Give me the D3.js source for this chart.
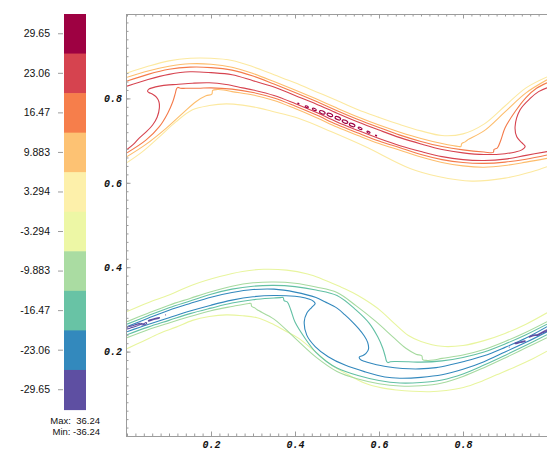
<!DOCTYPE html>
<html><head><meta charset="utf-8">
<script src="https://cdn.jsdelivr.net/npm/d3@7"></script>
<style>body{margin:0;background:#fff}svg{display:block}</style>
</head><body>
<svg id="c" width="547" height="452"></svg>
<script>
// ---------- data ----------
const levelLabels = ["29.65","23.06","16.47","9.883","3.294","-3.294","-9.883","-16.47","-23.06","-29.65"];
const levelColors = ["#9e0142","#d6434f","#f67e4b","#fdc273","#fdf0aa","#edf7a5","#aadca2","#68c3a5","#3389bd","#5e4fa2"];
const lineColors  = ["#9e0142","#d6434f","#f47a4a","#fdbd6c","#fce9a0","#e8f59e","#a6da9f","#62c0a4","#3288bd","#5e4fa2"];
const rangeText = ["Max:  36.24","Min: -36.24"];
const axisTicks = [0.2,0.4,0.6,0.8];

// upper shear layer (positive levels)
const c3294Top = [[0,.860],[.05,.876],[.1,.889],[.15,.895],[.2,.895],[.25,.890],[.3,.875],[.35,.856],[.4,.837],[.45,.816],[.5,.795],[.55,.773],[.6,.755],[.65,.738],[.7,.723],[.75,.712],[.8,.716],[.85,.739],[.9,.782],[.95,.825],[1,.851]];
const c3294Bot = [[0,.648],[.037,.674],[.077,.709],[.117,.745],[.156,.773],[.196,.783],[.236,.787],[.275,.784],[.315,.777],[.343,.770],[.408,.753],[.487,.721],[.567,.686],[.674,.634],[.741,.615],[.821,.604],[.9,.611],[.964,.626],[1,.638]];
const c9883Top = [[0,.850],[.05,.865],[.1,.876],[.15,.882],[.2,.881],[.25,.874],[.3,.859],[.35,.840],[.4,.820],[.45,.799],[.5,.777],[.55,.756],[.6,.737],[.65,.720],[.7,.705],[.75,.693],[.79,.686],[.795,.686],[.797,.693],[.805,.697],[.81,.701],[.85,.723],[.9,.768],[.95,.813],[1,.844]];
const c9883Bot = [[0,.662],[.045,.691],[.093,.729],[.133,.765],[.164,.792],[.188,.806],[.202,.810],[.204,.819],[.215,.821],[.23,.820],[.25,.816],[.3,.808],[.35,.795],[.4,.776],[.45,.755],[.5,.732],[.55,.712],[.6,.693],[.65,.677],[.7,.661],[.75,.648],[.8,.640],[.85,.637],[.9,.641],[.95,.649],[1,.658]];
const c1647Top = [[0,.841],[.05,.857],[.1,.869],[.15,.874],[.2,.873],[.25,.867],[.3,.853],[.35,.834],[.4,.814],[.45,.793],[.5,.771],[.55,.750],[.6,.731],[.65,.713],[.7,.698],[.75,.686],[.8,.678],[.85,.673],[.872,.672],[.874,.679],[.882,.683],[.89,.701],[.9,.730],[.925,.770],[.95,.802],[.975,.824],[1,.837]];
const c1647Bot = [[0,.671],[.045,.701],[.077,.733],[.097,.765],[.109,.792],[.115,.812],[.118,.823],[.121,.826],[.127,.824],[.14,.824],[.17,.824],[.2,.825],[.25,.822],[.3,.814],[.35,.801],[.4,.782],[.45,.761],[.5,.738],[.55,.718],[.6,.699],[.65,.683],[.7,.667],[.75,.655],[.8,.648],[.85,.646],[.9,.649],[.95,.656],[1,.666]];
const c2306Top = [[0,.829],[.05,.845],[.1,.857],[.15,.863],[.2,.861],[.25,.856],[.3,.842],[.35,.827],[.4,.807],[.45,.787],[.5,.765],[.55,.744],[.6,.725],[.65,.707],[.7,.692],[.75,.679],[.8,.671],[.85,.667],[.9,.669],[.925,.673],[.94,.678],[.948,.686],[.94,.695],[.928,.709],[.924,.733],[.936,.773],[.96,.800],[.98,.816],[1,.825]];
const c2306Bot = [[0,.679],[.015,.691],[.029,.706],[.045,.720],[.061,.737],[.072,.756],[.077,.777],[.076,.792],[.07,.803],[.061,.810],[.052,.814],[.049,.817],[.052,.822],[.06,.825],[.077,.829],[.1,.832],[.117,.833],[.156,.836],[.196,.837],[.236,.833],[.275,.825],[.3,.820],[.35,.807],[.4,.788],[.45,.767],[.5,.744],[.55,.724],[.6,.705],[.65,.688],[.7,.674],[.75,.662],[.8,.655],[.85,.653],[.9,.656],[.95,.665],[1,.674]];
// closed 29.65 islands along the upper braid: [x, y, half length]
const c2965Blobs = [[.408,.788,.0015],[.428,.780,.004],[.446,.774,.005],[.465,.767,.007],[.483,.761,.007],[.502,.753,.007],[.519,.745,.007],[.536,.737,.007],[.555,.729,.005],[.575,.720,.004],[.593,.712,.0015]];

// lower shear layer (negative levels)
const cm3294Top = [[0,.295],[.05,.316],[.1,.334],[.156,.358],[.221,.378],[.275,.390],[.325,.395],[.38,.393],[.43,.384],[.46,.374],[.507,.354],[.537,.340],[.565,.324],[.6,.300],[.635,.268],[.67,.238],[.7,.224],[.75,.2125],[.8,.2145],[.85,.226],[.9,.243],[.95,.265],[1,.292]];
const cm3294Bot = [[0,.207],[.037,.224],[.077,.243],[.117,.258],[.156,.274],[.196,.283],[.236,.287],[.275,.285],[.31,.280],[.343,.267],[.375,.250],[.408,.232],[.448,.200],[.487,.168],[.527,.145],[.567,.125],[.607,.114],[.642,.109],[.68,.106],[.721,.105],[.76,.108],[.801,.115],[.84,.128],[.88,.145],[.92,.162],[.96,.180],[1,.201]];
const cm9883Top = [[0,.271],[.05,.291],[.1,.310],[.15,.326],[.2,.342],[.25,.355],[.3,.363],[.35,.365],[.4,.362],[.45,.353],[.5,.340],[.545,.309],[.593,.271],[.633,.235],[.664,.208],[.688,.194],[.702,.190],[.704,.181],[.715,.179],[.73,.180],[.75,.184],[.8,.192],[.85,.205],[.9,.224],[.95,.246],[1,.271]];
const cm9883Bot = [[0,.233],[.05,.252],[.1,.268],[.15,.283],[.2,.297],[.25,.307],[.29,.314],[.295,.314],[.297,.307],[.305,.303],[.31,.299],[.35,.277],[.4,.232],[.45,.187],[.5,.153],[.55,.135],[.6,.124],[.65,.1185],[.7,.119],[.75,.1256],[.8,.141],[.85,.162],[.9,.185],[.95,.209],[1,.233]];
const cm1647Top = [[0,.265],[.05,.285],[.1,.304],[.15,.320],[.2,.336],[.25,.348],[.3,.355],[.35,.357],[.4,.354],[.45,.346],[.5,.333],[.545,.299],[.577,.267],[.597,.235],[.609,.208],[.615,.188],[.618,.177],[.621,.174],[.627,.176],[.64,.1765],[.67,.176],[.7,.175],[.75,.178],[.8,.186],[.85,.199],[.9,.218],[.95,.240],[1,.265]];
const cm1647Bot = [[0,.240],[.05,.258],[.1,.274],[.15,.290],[.2,.303],[.25,.315],[.3,.323],[.35,.327],[.365,.328],[.372,.328],[.374,.321],[.382,.3175],[.39,.2986],[.4,.270],[.425,.230],[.45,.198],[.475,.1765],[.5,.161],[.55,.1433],[.6,.1315],[.65,.1256],[.7,.1268],[.75,.1327],[.8,.147],[.85,.168],[.9,.191],[.95,.215],[1,.240]];
const cm2306Top = [[0,.259],[.05,.279],[.1,.298],[.15,.314],[.2,.329],[.25,.340],[.3,.347],[.35,.348],[.4,.341],[.45,.328],[.471,.318],[.5,.303],[.519,.287],[.537,.270],[.551,.255],[.565,.237],[.573,.222],[.575,.206],[.569,.196],[.56,.190],[.553,.187],[.556,.181],[.565,.177],[.583,.172],[.62,.164],[.656,.160],[.696,.159],[.736,.162],[.775,.170],[.8,.176],[.85,.190],[.9,.210],[.95,.232],[1,.259]];
const cm2306Bot = [[0,.247],[.05,.264],[.1,.280],[.15,.296],[.2,.310],[.25,.322],[.3,.330],[.35,.333],[.4,.331],[.425,.327],[.44,.322],[.448,.314],[.44,.305],[.428,.291],[.422,.271],[.428,.239],[.448,.212],[.479,.188],[.519,.168],[.567,.152],[.614,.140],[.65,.137],[.7,.139],[.75,.145],[.8,.158],[.85,.176],[.9,.199],[.95,.222],[1,.247]];
// thin -29.65 islands in the lower braid
const cm2965A = [[0,.2575],[.011,.2610],[.023,.2645],[.031,.2672],[.039,.2657],[.045,.2690],[.047,.2672],[.039,.2630],[.031,.2640],[.023,.2605],[.011,.2570],[0,.2540]];
const cm2965B = [[.051,.2735],[.064,.2775],[.077,.2808],[.077,.2795],[.064,.2760],[.051,.2722]];
const cm2965C = [[.091,.2867],[.093,.2870]];
const cm2965D = [[.909,.2105],[.911,.2110]];
const cm2965E = [[.924,.2200],[.936,.2230],[.948,.2255],[.948,.2240],[.936,.2215],[.924,.2187]];
const cm2965F = [[.958,.2355],[.968,.2395],[.978,.2405],[.988,.2460],[1,.2515],[1,.2490],[.988,.2440],[.978,.2385],[.968,.2378],[.958,.2340]];

// ---------- drawing ----------
const svg = d3.select("#c");
const x = d3.scaleLinear().domain([0,1]).range([127,547]);
const y = d3.scaleLinear().domain([0,1]).range([436,14]);
const axisCol = "#9c9c9c";
const labelFont = "Liberation Sans, Arial, sans-serif";

// colour bar
const cb = d3.scaleBand().domain(levelLabels).range([14,409.5]);
svg.append("g").selectAll("rect").data(levelLabels).join("rect")
  .attr("x",64).attr("width",22)
  .attr("y",d=>cb(d)).attr("height",cb.bandwidth()+0.6)
  .attr("fill",(d,i)=>levelColors[i]);
const cbAxis = svg.append("g").attr("transform","translate(63,0)")
  .call(d3.axisLeft(cb).tickSize(5).tickPadding(8));
cbAxis.select(".domain").remove();
cbAxis.selectAll("line").attr("stroke",axisCol);
cbAxis.selectAll("text").attr("font-family",labelFont).attr("font-size",10.5).attr("fill","#111");
svg.append("g").selectAll("text").data(rangeText).join("text")
  .attr("x",100).attr("y",(d,i)=>423.5+i*11).attr("text-anchor","end")
  .attr("font-family",labelFont).attr("font-size",9.5).attr("fill","#111")
  .style("white-space","pre").text(d=>d);

// contour lines
const clipId = "plotclip";
svg.append("clipPath").attr("id",clipId).append("rect")
  .attr("x",x(0)).attr("y",y(1)).attr("width",x(1)-x(0)).attr("height",y(0)-y(1));
const plot = svg.append("g").attr("clip-path",`url(#${clipId})`);
const line = d3.line().x(d=>x(d[0])).y(d=>y(d[1])).curve(d3.curveCatmullRom.alpha(0.5));
const lineClosed = d3.line().x(d=>x(d[0])).y(d=>y(d[1])).curve(d3.curveCatmullRomClosed.alpha(0.5));
const contours = [
  {lv:4,pts:c3294Top},{lv:4,pts:c3294Bot},
  {lv:3,pts:c9883Top},{lv:3,pts:c9883Bot},
  {lv:2,pts:c1647Top},{lv:2,pts:c1647Bot},
  {lv:1,pts:c2306Top},{lv:1,pts:c2306Bot},
  {lv:5,pts:cm3294Top},{lv:5,pts:cm3294Bot},
  {lv:6,pts:cm9883Top},{lv:6,pts:cm9883Bot},
  {lv:7,pts:cm1647Top},{lv:7,pts:cm1647Bot},
  {lv:8,pts:cm2306Top},{lv:8,pts:cm2306Bot}
];
plot.selectAll("path.ct").data(contours).join("path")
  .attr("class","ct").attr("d",d=>line(d.pts))
  .attr("fill","none").attr("stroke",d=>lineColors[d.lv]).attr("stroke-width",1.1);
const islands = [cm2965A,cm2965B,cm2965C,cm2965D,cm2965E,cm2965F];
plot.selectAll("path.isl").data(islands).join("path")
  .attr("class","isl").attr("d",d=>lineClosed(d))
  .attr("fill","none").attr("stroke",lineColors[9]).attr("stroke-width",1.1);
// ellipse islands of 29.65 oriented along the braid
const b0 = c2965Blobs[0], b1 = c2965Blobs[c2965Blobs.length-1];
const ang = Math.atan2(y(b1[1])-y(b0[1]), x(b1[0])-x(b0[0]))*180/Math.PI;
plot.selectAll("ellipse").data(c2965Blobs).join("ellipse")
  .attr("transform",d=>`translate(${x(d[0])},${y(d[1])}) rotate(${ang})`)
  .attr("rx",d=>x(d[2])-x(0)).attr("ry",d=>Math.min(1.5,(x(d[2])-x(0))*0.5))
  .attr("fill","none").attr("stroke",lineColors[0]).attr("stroke-width",1.1);

// axes
const minor = d3.range(0,51).map(i=>i/50);
function styleAxis(g){ g.selectAll("line,path").attr("stroke",axisCol); g.selectAll("text").attr("font-family","Liberation Mono, DejaVu Sans Mono, monospace").attr("font-weight","bold").attr("font-style","italic").attr("font-size",10).attr("fill","#111"); }
const fmt = d3.format(".1f");
// top
svg.append("g").attr("transform",`translate(0,${y(1)})`).call(d3.axisTop(x).tickValues(minor).tickSize(-2.5).tickSizeOuter(0).tickFormat("")).call(styleAxis);
svg.append("g").attr("transform",`translate(0,${y(1)})`).call(d3.axisTop(x).tickValues(axisTicks).tickSizeInner(-4.5).tickSizeOuter(0).tickFormat("")).call(styleAxis).select(".domain").remove();
// bottom
svg.append("g").attr("transform",`translate(0,${y(0)})`).call(d3.axisBottom(x).tickValues(minor).tickSize(-2.5).tickSizeOuter(0).tickFormat("")).call(styleAxis);
svg.append("g").attr("transform",`translate(0,${y(0)})`).call(d3.axisBottom(x).tickValues(axisTicks).tickSizeInner(-4.5).tickSizeOuter(0).tickPadding(5).tickFormat(fmt)).call(styleAxis).select(".domain").remove();
// left
svg.append("g").attr("transform",`translate(${x(0)-1},0)`).call(d3.axisLeft(y).tickValues(minor).tickSize(-2.5).tickSizeOuter(0).tickFormat("")).call(styleAxis);
svg.append("g").attr("transform",`translate(${x(0)-1},0)`).call(d3.axisLeft(y).tickValues(axisTicks).tickSizeInner(-4.5).tickSizeOuter(0).tickPadding(4).tickFormat(fmt)).call(styleAxis).select(".domain").remove();
</script>
</body></html>
